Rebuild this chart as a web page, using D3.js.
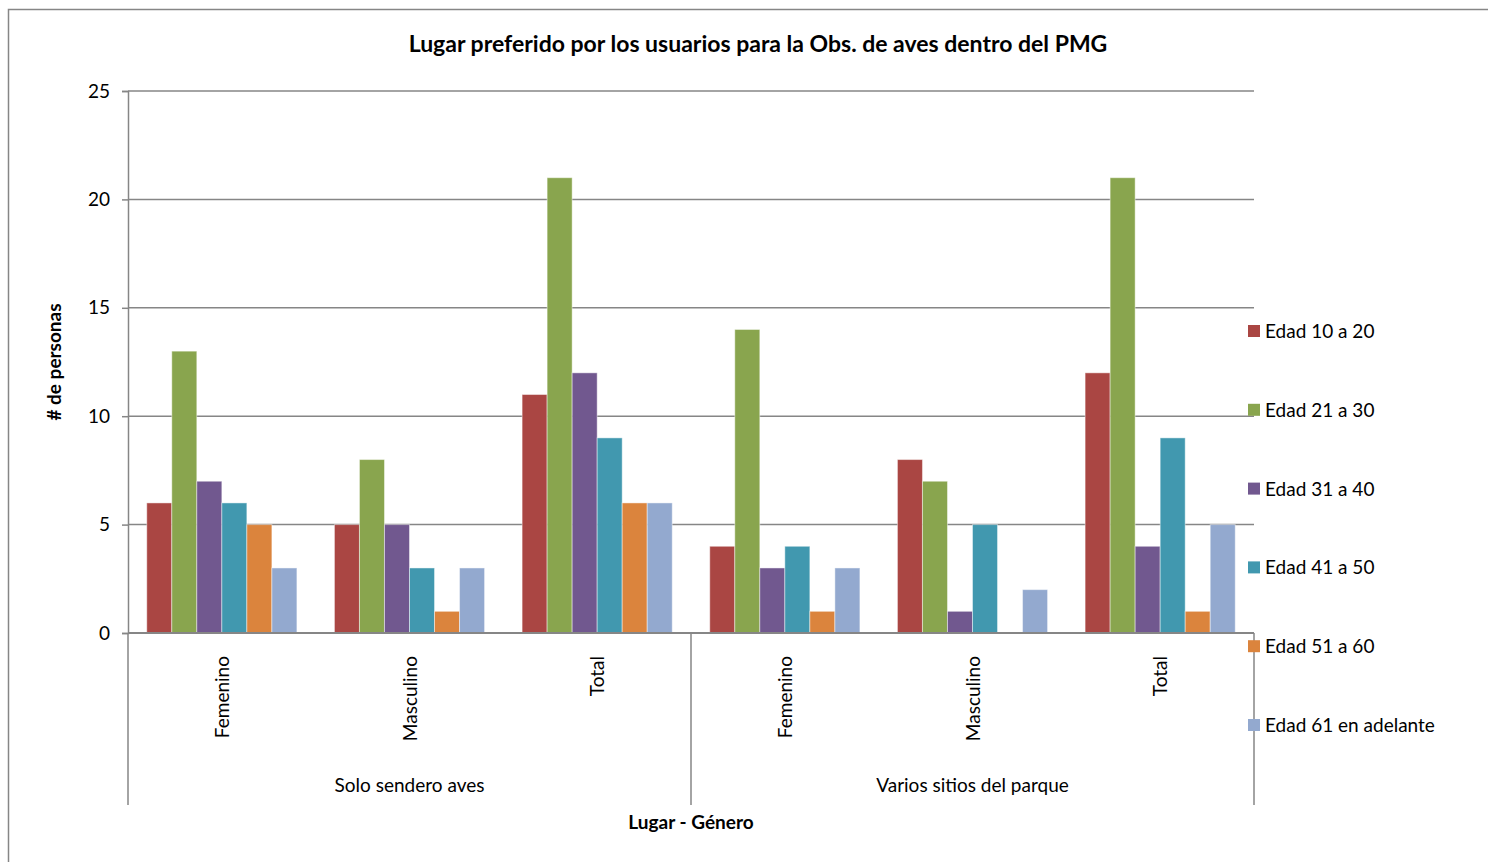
<!DOCTYPE html>
<html>
<head>
<meta charset="utf-8">
<script src="https://cdn.jsdelivr.net/npm/d3@7"></script>
<style>
  body { margin: 0; background: #fff; }
  svg { display: block; font-family: Lato, 'Open Sans', sans-serif; }
</style>
</head>
<body>
<div id="chart"></div>
<script>
// data
var lugares = ['Solo sendero aves', 'Varios sitios del parque']
var generos = ['Femenino', 'Masculino', 'Total']
var series = ['Edad 10 a 20', 'Edad 21 a 30', 'Edad 31 a 40', 'Edad 41 a 50', 'Edad 51 a 60', 'Edad 61 en adelante']
var colors = ['#AA4643', '#89A54E', '#71588F', '#4198AF', '#DB843D', '#93A9CF']
// values per series, order: sendero F, M, T, varios F, M, T
var edad10 = [6, 5, 11, 4, 8, 12]
var edad21 = [13, 8, 21, 14, 7, 21]
var edad31 = [7, 5, 12, 3, 1, 4]
var edad41 = [6, 3, 9, 4, 5, 9]
var edad51 = [5, 1, 6, 1, 0, 1]
var edad61 = [3, 3, 6, 3, 2, 5]
var yTicks = [0, 5, 10, 15, 20, 25]

var values = [edad10, edad21, edad31, edad41, edad51, edad61]
var cats = []
lugares.forEach(l => generos.forEach(g => cats.push(l + '|' + g)))

var width = 1488
var height = 862
var margin = { top: 91, left: 128, right: 234, bottom: 229 }
var pw = width - margin.left - margin.right
var ph = height - margin.top - margin.bottom
var axisColor = '#868686'
var fs = 19

var svg = d3
  .select('#chart')
  .append('svg')
  .attr('width', width)
  .attr('height', height)

// outer frame
svg.append('rect')
  .attr('x', 8.5).attr('y', 9.5)
  .attr('width', width).attr('height', height)
  .attr('fill', 'none').attr('stroke', axisColor).attr('stroke-width', 1.5)

var g = svg.append('g')
  .attr('transform', 'translate(' + margin.left + ',' + margin.top + ')')

var x0 = d3.scaleBand().domain(cats).range([0, pw]).paddingInner(0).paddingOuter(0)
var x1 = d3.scaleBand().domain(series).range([0, x0.bandwidth()]).paddingOuter(0.75).paddingInner(0)
var y = d3.scaleLinear().domain([0, 25]).range([ph, 0])

// gridlines
g.selectAll('.grid')
  .data(yTicks.filter(d => d > 0))
  .enter()
  .append('line')
  .attr('x1', 0).attr('x2', pw)
  .attr('y1', d => y(d)).attr('y2', d => y(d))
  .attr('stroke', axisColor).attr('stroke-width', 1.5)

// y axis
var yAxis = g.append('g')
  .call(d3.axisLeft(y).tickValues(yTicks).tickSize(6).tickPadding(12))
yAxis.selectAll('path, line').attr('stroke', axisColor).attr('stroke-width', 1.5)
yAxis.selectAll('text').attr('font-size', fs).attr('fill', '#000').attr('font-family', 'Lato, sans-serif')

// bars
series.forEach((s, si) => {
  g.append('g')
    .selectAll('rect')
    .data(values[si])
    .enter()
    .append('rect')
    .attr('x', (d, i) => x0(cats[i]) + x1(s))
    .attr('y', d => y(d))
    .attr('width', x1.bandwidth())
    .attr('height', d => ph - y(d))
    .attr('fill', colors[si])
    .attr('stroke', 'rgba(255,255,255,0.45)')
    .attr('stroke-width', 1)
})

// x axis baseline
g.append('line')
  .attr('x1', 0).attr('x2', pw)
  .attr('y1', ph).attr('y2', ph)
  .attr('stroke', axisColor).attr('stroke-width', 2)

// group separators
var groupW = pw / lugares.length
d3.range(lugares.length + 1).forEach(i => {
  g.append('line')
    .attr('x1', i * groupW).attr('x2', i * groupW)
    .attr('y1', ph).attr('y2', ph + 172)
    .attr('stroke', axisColor).attr('stroke-width', 1.5)
})

// category labels (rotated)
g.selectAll('.cat')
  .data(cats)
  .enter()
  .append('text')
  .attr('transform', d => 'translate(' + (x0(d) + x0.bandwidth() / 2 + 7) + ',' + (ph + 23) + ') rotate(-90)')
  .attr('text-anchor', 'end')
  .attr('font-size', fs)
  .attr('fill', '#000')
  .text(d => d.split('|')[1])

// group labels
g.selectAll('.lugar')
  .data(lugares)
  .enter()
  .append('text')
  .attr('x', (d, i) => i * groupW + groupW / 2)
  .attr('y', ph + 159)
  .attr('text-anchor', 'middle')
  .attr('font-size', fs)
  .attr('fill', '#000')
  .text(d => d)

// axis titles
svg.append('text')
  .attr('x', margin.left + pw / 2)
  .attr('y', 829)
  .attr('text-anchor', 'middle')
  .attr('font-size', fs)
  .attr('font-weight', 'bold')
  .text('Lugar - Género')

svg.append('text')
  .attr('transform', 'translate(61,362) rotate(-90)')
  .attr('text-anchor', 'middle')
  .attr('font-size', fs)
  .attr('font-weight', 'bold')
  .text('# de personas')

// title
svg.append('text')
  .attr('x', 758)
  .attr('y', 52)
  .attr('text-anchor', 'middle')
  .attr('font-size', 23)
  .attr('font-weight', 'bold')
  .text('Lugar preferido por los usuarios para la Obs. de aves dentro del PMG')

// legend
var legend = svg.selectAll('.legend')
  .data(series)
  .enter()
  .append('g')
  .attr('transform', (d, i) => 'translate(1248,' + (331 + i * 78.8) + ')')
legend.append('rect')
  .attr('x', 0).attr('y', -6)
  .attr('width', 12).attr('height', 12)
  .attr('fill', (d, i) => colors[i])
legend.append('text')
  .attr('x', 17).attr('y', 7)
  .attr('font-size', fs)
  .attr('fill', '#000')
  .text(d => d)
</script>
</body>
</html>
